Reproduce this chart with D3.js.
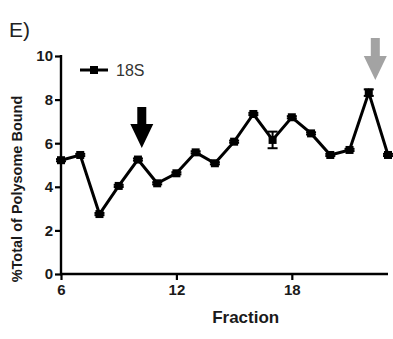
<!DOCTYPE html>
<html>
<head>
<meta charset="utf-8">
<script src="https://cdn.jsdelivr.net/npm/d3@7"></script>
<style>
  html, body { margin: 0; padding: 0; background: #fff; }
  svg { display: block; }
</style>
</head>
<body>
<svg id="chart" width="393" height="339"></svg>
<script>
// 18S rRNA distribution across sucrose gradient fractions
const fractions = [6, 7, 8, 9, 10, 11, 12, 13, 14, 15, 16, 17, 18, 19, 20, 21, 22, 23];
const values18S = [5.22, 5.46, 2.75, 4.04, 5.25, 4.16, 4.62, 5.58, 5.08, 6.07, 7.34, 6.15, 7.19, 6.45, 5.46, 5.69, 8.32, 5.46];
const errors18S = [0.05, 0.05, 0.05, 0.05, 0.05, 0.05, 0.05, 0.05, 0.05, 0.05, 0.05, 0.38, 0.05, 0.05, 0.05, 0.05, 0.15, 0.05];
const xTicks = [6, 12, 18];
const yTicks = [0, 2, 4, 6, 8, 10];
const seriesName = "18S";
const panelLabel = "E)";
const xTitle = "Fraction";
const yTitle = "%Total of Polysome Bound";
// annotation arrows: fraction position, top value, tip value
const arrowX = [10.2, 22.34];
const arrowTop = [7.66, 10.83];
const arrowTip = [5.78, 8.9];
const arrowColors = ["#000000", "#a3a3a3"];

const svg = d3.select("#chart");
const x = d3.scaleLinear().domain([6, 23]).range([61, 388]);
const y = d3.scaleLinear().domain([0, 10]).range([274, 56]);
const bold = "Liberation Sans, Arial, sans-serif";

// panel label
svg.append("text").attr("x", 9).attr("y", 37)
  .attr("font-family", bold)
  .attr("font-size", 21).attr("fill", "#222").text(panelLabel);

// axes
const xAxis = svg.append("g").attr("transform", "translate(0,274)")
  .call(d3.axisBottom(x).tickValues(xTicks).tickSize(6).tickPadding(4).tickFormat(d3.format("d")));
const yAxis = svg.append("g").attr("transform", "translate(61,0)")
  .call(d3.axisLeft(y).tickValues(yTicks).tickSize(6).tickPadding(2).tickFormat(d3.format("d")));
[xAxis, yAxis].forEach(g => {
  g.select(".domain").remove();
  g.selectAll(".tick line").attr("stroke", "#000").attr("stroke-width", 2.2);
  g.selectAll(".tick text").attr("font-family", bold).attr("font-weight", "bold")
    .attr("font-size", 15).attr("fill", "#1a1a1a");
});
// axis lines
svg.append("line").attr("x1", x(6) - 1).attr("x2", x(23)).attr("y1", y(0)).attr("y2", y(0))
  .attr("stroke", "#000").attr("stroke-width", 2.4);
svg.append("line").attr("x1", x(6)).attr("x2", x(6)).attr("y1", y(10) - 1).attr("y2", y(0) + 1)
  .attr("stroke", "#000").attr("stroke-width", 2.4);

// axis titles
svg.append("text").attr("x", x(15.6)).attr("y", 323).attr("text-anchor", "middle")
  .attr("font-family", bold).attr("font-weight", "bold").attr("font-size", 17)
  .attr("fill", "#1a1a1a").text(xTitle);
svg.append("text").attr("transform", "translate(22,189) rotate(-90)").attr("text-anchor", "middle")
  .attr("font-family", bold).attr("font-weight", "bold").attr("font-size", 14.5)
  .attr("fill", "#1a1a1a").text(yTitle);

const data = fractions.map((f, i) => ({ f, v: values18S[i], e: errors18S[i] }));

// error bars
const eb = svg.append("g").attr("stroke", "#000").attr("stroke-width", 2);
data.forEach(d => {
  eb.append("line").attr("x1", x(d.f)).attr("x2", x(d.f)).attr("y1", y(d.v - d.e)).attr("y2", y(d.v + d.e));
  [d.v - d.e, d.v + d.e].forEach(v =>
    eb.append("line").attr("x1", x(d.f) - 5).attr("x2", x(d.f) + 5).attr("y1", y(v)).attr("y2", y(v)));
});

// series line and markers
svg.append("path").datum(data)
  .attr("d", d3.line().x(d => x(d.f)).y(d => y(d.v)))
  .attr("fill", "none").attr("stroke", "#000").attr("stroke-width", 3).attr("stroke-linejoin", "miter");
svg.append("g").selectAll("rect").data(data).join("rect")
  .attr("x", d => x(d.f) - 4).attr("y", d => y(d.v) - 4)
  .attr("width", 8).attr("height", 8).attr("fill", "#000");

// legend
svg.append("line").attr("x1", 80).attr("x2", 108).attr("y1", 70).attr("y2", 70)
  .attr("stroke", "#000").attr("stroke-width", 3);
svg.append("rect").attr("x", 90).attr("y", 66).attr("width", 8).attr("height", 8).attr("fill", "#000");
svg.append("text").attr("x", 116).attr("y", 76).attr("font-family", bold)
  .attr("font-size", 16).attr("fill", "#333").text(seriesName);

// arrows
arrowX.forEach((ax, i) => {
  const cx = x(ax), top = y(arrowTop[i]), tip = y(arrowTip[i]);
  const headLen = 24, shaftW = 9, headW = 23;
  const hs = tip - headLen;
  const pts = [
    [cx - shaftW / 2, top], [cx + shaftW / 2, top], [cx + shaftW / 2, hs],
    [cx + headW / 2, hs], [cx, tip], [cx - headW / 2, hs], [cx - shaftW / 2, hs]
  ];
  svg.append("path").attr("d", d3.line()(pts) + "Z").attr("fill", arrowColors[i]);
});
</script>
</body>
</html>
